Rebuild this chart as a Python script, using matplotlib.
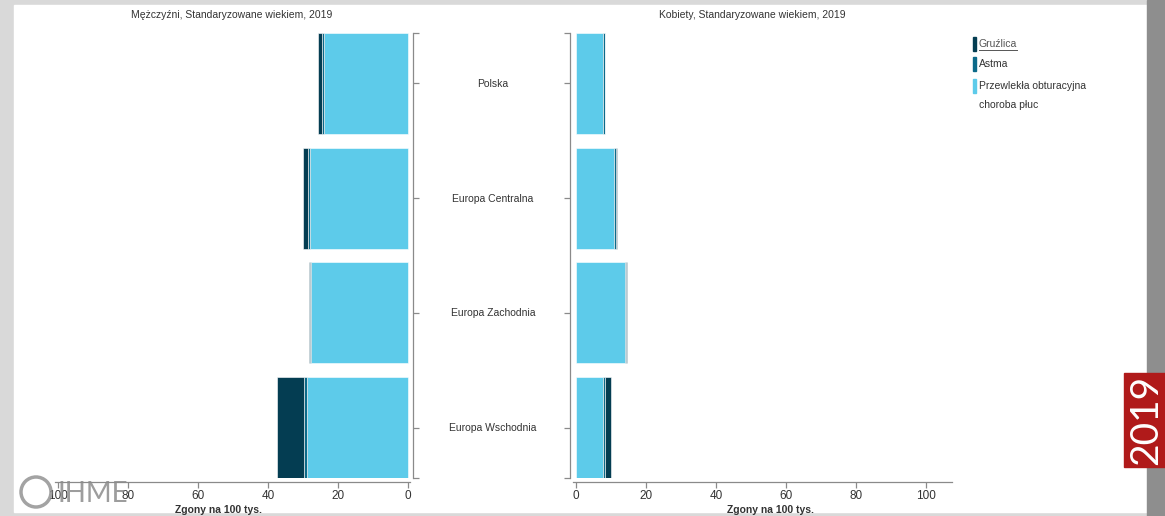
import matplotlib
matplotlib.use('Agg')
import matplotlib.pyplot as plt
from matplotlib.patches import Rectangle, Ellipse
from matplotlib.lines import Line2D
import numpy as np

plt.rcParams['font.family'] = ['Liberation Sans', 'DejaVu Sans']

# Data
regions = ['Polska', 'Europa Centralna', 'Europa Zachodnia', 'Europa Wschodnia']
causes = ['Gruźlica', 'Astma', 'Przewlekła obturacyjna', 'choroba płuc']
men_copd = [23.9, 28.0, 27.6, 29.0]
men_asthma = [0.7, 0.7, 0.5, 0.6]
men_tb = [1.2, 1.3, 0.2, 7.7]
women_copd = [7.8, 10.8, 14.0, 7.8]
women_asthma = [0.4, 0.5, 0.4, 0.4]
women_tb = [0.2, 0.4, 0.2, 1.9]
ticks = [0, 20, 40, 60, 80, 100]

# Colours
c_tb = '#043d52'
c_asthma = '#0c6a89'
c_copd = '#5dcbea'
c_axis = '#8a8a8a'
c_text = '#333333'

W, H = 1165, 516
fig = plt.figure(figsize=(W / 100, H / 100), dpi=100)
fig.patch.set_facecolor('#d9d9d9')

def px(x0, y0, x1, y1):
    # pixel box (top-left origin) -> figure fraction
    return [x0 / W, 1 - y1 / H, (x1 - x0) / W, (y1 - y0) / H]

# white panel and right shadow (behind the axes)
fig.patches.append(Rectangle((14 / W, 1 - 512 / H), (1147 - 14) / W, (512 - 5) / H,
                             transform=fig.transFigure, color='white', zorder=-10))
fig.patches.append(Rectangle((1147 / W, 0), (W - 1147) / W, 1,
                             transform=fig.transFigure, color='#8e8e8e', zorder=-10))

y = np.arange(len(regions))
bh = 0.878

def style_axis(ax, side):
    ax.patch.set_alpha(0)
    for s in ['top', side]:
        ax.spines[s].set_visible(False)
    keep = 'right' if side == 'left' else 'left'
    ax.spines[keep].set_position(('outward', 2.2))
    ax.spines['bottom'].set_position(('outward', 2.9))
    for s in [keep, 'bottom']:
        ax.spines[s].set_color(c_axis)
        ax.spines[s].set_linewidth(0.9)
    ax.set_ylim(3.44, -0.44)
    ax.set_yticks([-0.44] + list(y) + [3.44])
    ax.set_yticklabels([])
    ax.yaxis.set_ticks_position(keep)
    ax.tick_params(axis='y', length=4, color=c_axis, width=0.9)
    ax.set_xticks(ticks)
    ax.tick_params(axis='x', length=4, color=c_axis, width=0.9,
                   labelsize=8.5, labelcolor=c_text, pad=2)
    ax.set_xlabel('Zgony na 100 tys.', fontsize=7.5, fontweight='bold', color=c_text, labelpad=1)

# Men (left)
ax1 = fig.add_axes(px(55, 33, 410, 478))
left = np.zeros(len(regions))
for vals, col in [(men_copd, c_copd), (men_asthma, c_asthma), (men_tb, c_tb)]:
    ax1.barh(y, vals, left=left, height=bh, color=col, edgecolor='white', linewidth=0.4)
    left = left + np.array(vals)
ax1.set_xlim(100.86, -0.57)
style_axis(ax1, 'left')
ax1.xaxis.set_label_coords(0.46, -0.06)

# Women (right)
ax2 = fig.add_axes(px(573, 33, 952, 478))
left = np.zeros(len(regions))
for vals, col in [(women_copd, c_copd), (women_asthma, c_asthma), (women_tb, c_tb)]:
    ax2.barh(y, vals, left=left, height=bh, color=col, edgecolor='white', linewidth=0.4)
    left = left + np.array(vals)
ax2.set_xlim(-0.86, 107.43)
style_axis(ax2, 'right')
ax2.xaxis.set_label_coords(0.52, -0.06)

# Titles
fig.text(232 / W, 1 - 15 / H, 'Mężczyźni, Standaryzowane wiekiem, 2019', ha='center', va='center',
         fontsize=7.5, color=c_text)
fig.text(752 / W, 1 - 15 / H, 'Kobiety, Standaryzowane wiekiem, 2019', ha='center', va='center',
         fontsize=7.5, color=c_text)

# Region labels between panels
for i, r in enumerate(regions):
    fig.text(493 / W, 1 - (84 + 114.7 * i) / H, r, ha='center', va='center',
             fontsize=7.5, color=c_text)

# Legend
for yy, col in zip([44, 64, 86], [c_tb, c_asthma, c_copd]):
    fig.patches.append(Rectangle((973 / W, 1 - (yy + 7) / H), 3 / W, 14 / H,
                                 transform=fig.transFigure, color=col))
fig.text(979 / W, 1 - 44 / H, causes[0], ha='left', va='center', fontsize=7.5, color='#555555')
fig.lines.append(Line2D([979 / W, 1017 / W], [1 - 50 / H, 1 - 50 / H], transform=fig.transFigure,
                        color='#555555', linewidth=0.7))
fig.text(979 / W, 1 - 64 / H, causes[1], ha='left', va='center', fontsize=7.5, color=c_text)
fig.text(979 / W, 1 - 86 / H, causes[2], ha='left', va='center', fontsize=7.5, color=c_text)
fig.text(979 / W, 1 - 105 / H, causes[3], ha='left', va='center', fontsize=7.5, color=c_text)

# Year badge
fig.patches.append(Rectangle((1124 / W, 1 - 467 / H), (W - 1124) / W, 94 / H,
                             transform=fig.transFigure, color='#b01a1a', zorder=5))
fig.text(1146 / W, 1 - 420 / H, '2019', rotation=90, ha='center', va='center', fontsize=28,
         color='white', family='Lato', zorder=6)

# IHME logo (watermark, overlaps the axis labels as in the original)
fig.patches.append(Ellipse((36 / W, 1 - 492 / H), 30 / W, 30 / H, transform=fig.transFigure,
                           fill=False, edgecolor='#8c8c8c', linewidth=2.5, alpha=0.8, zorder=6))
fig.text(58 / W, 1 - 494 / H, 'IHME', ha='left', va='center', fontsize=20, color='#8c8c8c',
         family='Lato', alpha=0.85, zorder=6)

fig.savefig('out.png', dpi=100)
